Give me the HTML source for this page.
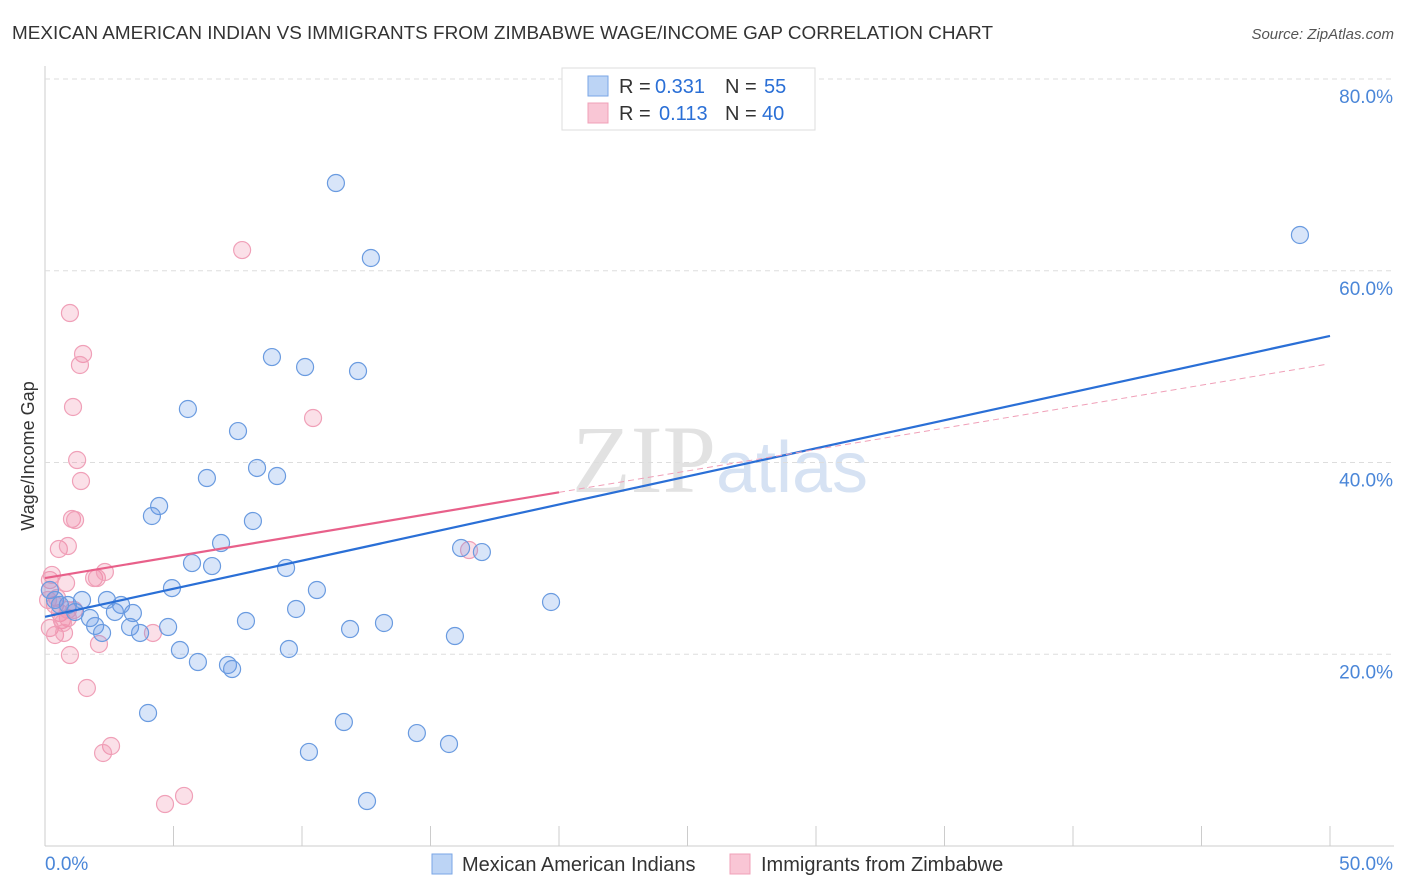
<!DOCTYPE html>
<html><head><meta charset="utf-8"><style>
body{margin:0;background:#fff;font-family:"Liberation Sans",sans-serif;}
#wrap{position:relative;width:1406px;height:892px;overflow:hidden;}
</style></head><body>
<div id="wrap">
<svg id="chart" width="1406" height="892">
<text x="12" y="39" font-size="18" fill="#333" textLength="981" lengthAdjust="spacingAndGlyphs">MEXICAN AMERICAN INDIAN VS IMMIGRANTS FROM ZIMBABWE WAGE/INCOME GAP CORRELATION CHART</text>
<text x="1394" y="39" font-size="15" fill="#555" font-style="italic" text-anchor="end">Source: ZipAtlas.com</text>
<text x="34" y="456" font-size="18" fill="#333" text-anchor="middle" transform="rotate(-90 34 456)">Wage/Income Gap</text>
<text x="720" y="492" font-size="96" text-anchor="middle" font-family="Liberation Serif,serif"><tspan fill="#e2e2e2">ZIP</tspan><tspan fill="#d6e2f3" font-family="Liberation Sans,sans-serif" font-size="72">atlas</tspan></text>
<g id="grid"></g><g id="pts"></g><g id="lines"></g>
<g>
<rect x="562" y="68" width="253" height="62" fill="#fff" stroke="#ddd"/>
<rect x="588" y="76" width="20" height="20" fill="#bcd4f5" stroke="#7aa6e6"/>
<rect x="588" y="103" width="20" height="20" fill="#f9c6d5" stroke="#f0a0b8"/>
<text x="619" y="93" font-size="20" fill="#333">R =</text>
<text x="655" y="93" font-size="20" fill="#2a6fd6">0.331</text>
<text x="725" y="93" font-size="20" fill="#333">N =</text>
<text x="764" y="93" font-size="20" fill="#2a6fd6">55</text>
<text x="619" y="120" font-size="20" fill="#333">R =</text>
<text x="659" y="120" font-size="20" fill="#2a6fd6">0.113</text>
<text x="725" y="120" font-size="20" fill="#333">N =</text>
<text x="762" y="120" font-size="20" fill="#2a6fd6">40</text>
</g>
<g>
<rect x="432" y="854" width="20" height="20" fill="#bcd4f5" stroke="#7aa6e6"/>
<text x="462" y="871" font-size="20" fill="#333">Mexican American Indians</text>
<rect x="730" y="854" width="20" height="20" fill="#f9c6d5" stroke="#f0a0b8"/>
<text x="761" y="871" font-size="20" fill="#333">Immigrants from Zimbabwe</text>
</g>
</svg></div>
<script>
const blueX=[11.32,48.83,12.68,8.83,10.12,12.18,5.56,7.51,8.25,9.03,6.30,4.44,4.16,8.09,6.85,16.19,17.0,5.72,6.5,9.38,4.94,10.58,19.69,0.19,0.39,1.44,2.41,2.96,0.89,1.17,2.72,3.42,1.75,9.77,7.82,13.19,11.87,1.95,3.31,2.22,3.70,4.79,15.95,5.25,9.49,5.95,7.12,7.28,4.01,11.63,14.47,15.72,10.27,12.53,0.58];
const blueY=[69.15,63.73,61.33,51.0,49.96,49.54,45.58,43.28,39.43,38.59,38.38,35.46,34.42,33.9,31.6,31.08,30.66,29.51,29.2,29.0,26.9,26.7,25.45,26.7,25.66,25.66,25.66,25.14,25.14,24.41,24.41,24.3,23.78,24.72,23.47,23.26,22.63,22.95,22.84,22.22,22.22,22.84,21.9,20.44,20.55,19.19,18.88,18.46,13.87,12.93,11.78,10.64,9.81,4.69,25.14];
const pinkX=[7.67,0.97,1.48,1.36,1.09,10.43,1.25,1.40,1.05,1.17,0.54,0.89,0.19,0.82,1.91,2.02,2.33,16.5,0.19,0.39,0.58,0.66,0.89,0.19,0.39,0.74,4.2,2.1,0.97,1.63,2.57,2.26,5.41,4.67,0.47,0.89,0.27,1.13,0.12,0.70];
const pinkY=[62.16,55.59,51.32,50.17,45.79,44.64,40.26,38.07,34.11,34.0,30.98,31.29,27.74,27.43,27.95,27.95,28.58,30.87,26.7,25.14,24.3,23.57,23.78,22.74,22.01,22.22,22.22,21.07,19.92,16.48,10.43,9.7,5.22,4.38,25.87,24.62,28.27,24.62,25.66,23.26];
const blueTrend=[23.9,53.2];
const pinkTrend=[27.95,50.3];
const yTicks=[20,40,60,80];
const xTicks=[0,5,10,15,20,25,30,35,40,45,50];
const NS='http://www.w3.org/2000/svg';
const X=v=>45+v*25.7, Y=v=>846-v*9.5875;
function mk(tag,attrs,parent){const e=document.createElementNS(NS,tag);for(const k in attrs)e.setAttribute(k,attrs[k]);parent.appendChild(e);return e;}
const g=document.getElementById('grid');
let e=mk('line',{x1:45,y1:66,x2:45,y2:846,stroke:'#ccc'},g);


e=mk('line',{x1:45,y1:846,x2:1394,y2:846,stroke:'#ccc'},g);


yTicks.forEach(t=>{
 e=mk('line',{x1:45,y1:Y(t),x2:1394,y2:Y(t),stroke:'#ddd','stroke-dasharray':'5,4'},g);
 
 
 e=mk('text',{x:1393,y:Y(t)+24,'font-size':19,fill:'#4a86d8','text-anchor':'end'},g);
 e.textContent=t.toFixed(1)+'%';
 
 
});
xTicks.forEach(t=>{
 e=mk('line',{x1:X(t),y1:826,x2:X(t),y2:846,stroke:'#ccc'},g);
 
 
});
e=mk('text',{x:45,y:870,'font-size':19,fill:'#4a86d8'},g);e.textContent='0.0%';


e=mk('text',{x:1393,y:870,'font-size':19,fill:'#4a86d8','text-anchor':'end'},g);e.textContent='50.0%';


const p=document.getElementById('pts');
pinkX.forEach((x,i)=>{
 e=mk('circle',{cx:X(x),cy:Y(pinkY[i]),r:8.5,fill:'rgba(240,130,165,0.25)',stroke:'#f0a0b8','stroke-width':1.2},p);
 
 
});
blueX.forEach((x,i)=>{
 e=mk('circle',{cx:X(x),cy:Y(blueY[i]),r:8.5,fill:'rgba(100,150,230,0.25)',stroke:'#6a9be0','stroke-width':1.2},p);
 
 
});
const l=document.getElementById('lines');
e=mk('line',{x1:X(0),y1:Y(blueTrend[0]),x2:X(50),y2:Y(blueTrend[1]),stroke:'#2a6fd6','stroke-width':2.2},l);


const pAt=x=>pinkTrend[0]+(pinkTrend[1]-pinkTrend[0])*x/50;
e=mk('line',{x1:X(0),y1:Y(pAt(0)),x2:X(20),y2:Y(pAt(20)),stroke:'#e8608a','stroke-width':2.2},l);


e=mk('line',{x1:X(20),y1:Y(pAt(20)),x2:X(49.8),y2:Y(pAt(49.8)),stroke:'#f0a0b8','stroke-width':1,'stroke-dasharray':'6,4'},l);


</script>
</body></html>
